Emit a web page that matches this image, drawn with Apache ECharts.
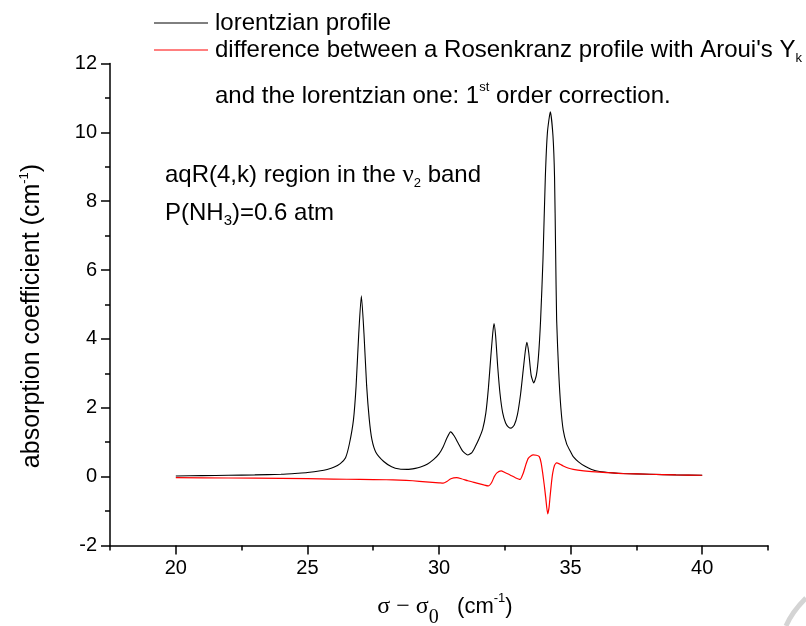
<!DOCTYPE html>
<html>
<head>
<meta charset="utf-8">
<script src="https://cdn.jsdelivr.net/npm/echarts@6/dist/echarts.min.js"></script>
<style>
  html, body { margin: 0; padding: 0; background: #fff; }
  #chart { width: 806px; height: 626px; }
</style>
</head>
<body>
<div id="chart"></div>
<script>
// Wavenumber offset (cm-1) and absorption coefficient (cm-1) of the Lorentzian profile
const lorentzSigma = [20.0, 21.0, 22.0, 23.0, 24.0, 24.65, 25.0, 25.5, 25.75, 26.0, 26.25, 26.45, 26.6, 26.75, 26.85, 26.95, 27.05, 27.15, 27.25, 27.35, 27.45, 27.6, 27.9, 28.2, 28.5, 28.8, 29.1, 29.3, 29.55, 29.8, 30.0, 30.16, 30.3, 30.44, 30.58, 30.73, 30.9, 31.09, 31.25, 31.37, 31.52, 31.66, 31.78, 31.88, 31.97, 32.04, 32.09, 32.15, 32.23, 32.32, 32.42, 32.53, 32.64, 32.74, 32.86, 32.98, 33.1, 33.2, 33.28, 33.34, 33.41, 33.5, 33.6, 33.7, 33.78, 33.86, 33.95, 34.04, 34.12, 34.23, 34.33, 34.39, 34.43, 34.47, 34.55, 34.63, 34.72, 34.85, 35.0, 35.1, 35.3, 35.55, 35.8, 36.1, 36.6, 37.0, 38.0, 39.0, 40.0];
const lorentzAbs = [0.02, 0.03, 0.04, 0.05, 0.07, 0.10, 0.12, 0.17, 0.21, 0.27, 0.38, 0.55, 0.97, 1.65, 2.63, 4.14, 5.25, 4.15, 2.65, 1.67, 1.08, 0.71, 0.44, 0.29, 0.22, 0.21, 0.24, 0.28, 0.36, 0.50, 0.66, 0.87, 1.12, 1.30, 1.18, 0.97, 0.74, 0.63, 0.70, 0.86, 1.10, 1.38, 1.85, 2.6, 3.5, 4.15, 4.45, 4.1, 3.2, 2.4, 1.85, 1.56, 1.44, 1.41, 1.5, 1.8, 2.4, 3.1, 3.65, 3.9, 3.6, 2.95, 2.72, 2.95, 3.5, 4.55, 6.3, 8.7, 10.0, 10.6, 9.9, 8.7, 6.6, 4.55, 3.0, 2.0, 1.35, 0.95, 0.72, 0.58, 0.43, 0.30, 0.21, 0.15, 0.11, 0.09, 0.07, 0.05, 0.04];

// First order correction: Rosenkranz profile (Aroui's Y_k) minus the Lorentzian one
const corrSigma = [20.0, 22.0, 24.0, 26.0, 27.0, 28.0, 28.5, 29.0, 29.5, 30.0, 30.16, 30.3, 30.45, 30.67, 30.85, 31.1, 31.4, 31.7, 31.87, 32.0, 32.1, 32.2, 32.36, 32.5, 32.7, 32.9, 33.08, 33.2, 33.3, 33.39, 33.5, 33.58, 33.7, 33.81, 33.88, 33.94, 34.0, 34.05, 34.13, 34.18, 34.22, 34.27, 34.32, 34.39, 34.47, 34.6, 34.72, 34.9, 35.1, 35.5, 36.1, 37.0, 38.0, 39.0, 40.0];
const corrAbs = [-0.03, -0.04, -0.05, -0.07, -0.08, -0.09, -0.10, -0.12, -0.15, -0.18, -0.19, -0.14, -0.06, -0.03, -0.06, -0.12, -0.18, -0.24, -0.27, -0.17, 0.0, 0.11, 0.17, 0.12, 0.05, -0.03, -0.08, 0.10, 0.35, 0.53, 0.61, 0.63, 0.62, 0.58, 0.40, 0.10, -0.25, -0.58, -1.08, -0.90, -0.58, -0.20, 0.10, 0.33, 0.40, 0.36, 0.31, 0.25, 0.21, 0.17, 0.13, 0.09, 0.07, 0.05, 0.04];

// Axis ticks
const xMajor = [20, 25, 30, 35, 40];
const xMinor = [17.5, 22.5, 27.5, 32.5, 37.5, 42.5];
const yMajor = [-2, 0, 2, 4, 6, 8, 10, 12];
const yMinor = [-1, 1, 3, 5, 7, 9, 11];

const FONT = '"Liberation Sans", Arial, sans-serif';
const SERIF = '"Liberation Serif", "DejaVu Serif", serif';

const pair = (xs, ys) => xs.map((x, i) => [x, ys[i]]);

const chart = echarts.init(document.getElementById('chart'), null, { renderer: 'canvas' });

const tickStyle = { color: '#000', width: 1.5 };

chart.setOption({
  animation: false,
  backgroundColor: '#fff',
  grid: { left: 110, top: 63.5, right: 38, bottom: 80.5, containLabel: false, outerBoundsMode: 'none' },
  xAxis: [
    {
      type: 'value', min: 17.5, max: 42.5, interval: 2.5, position: 'bottom',
      axisLine: { show: true, onZero: false, lineStyle: { color: '#000', width: 1.5 } },
      axisTick: { show: true, inside: false, length: 9, lineStyle: tickStyle, customValues: xMajor },
      axisLabel: { show: true, margin: 13, color: '#000', fontFamily: FONT, fontSize: 20, customValues: xMajor },
      splitLine: { show: false }
    },
    {
      type: 'value', min: 17.5, max: 42.5, interval: 2.5, position: 'bottom', offset: 0,
      axisLine: { show: false, onZero: false },
      axisTick: { show: true, inside: false, length: 5, lineStyle: tickStyle, customValues: xMinor },
      axisLabel: { show: false },
      splitLine: { show: false }
    }
  ],
  yAxis: [
    {
      type: 'value', min: -2, max: 12, interval: 2, position: 'left',
      axisLine: { show: true, onZero: false, lineStyle: { color: '#000', width: 1.5 } },
      axisTick: { show: true, inside: false, length: 9, lineStyle: tickStyle, customValues: yMajor },
      axisLabel: { show: true, margin: 13, color: '#000', fontFamily: FONT, fontSize: 20, customValues: yMajor },
      splitLine: { show: false }
    },
    {
      type: 'value', min: -2, max: 12, interval: 1, position: 'left', offset: 0,
      axisLine: { show: false, onZero: false },
      axisTick: { show: true, inside: false, length: 5, lineStyle: tickStyle, customValues: yMinor },
      axisLabel: { show: false },
      splitLine: { show: false }
    }
  ],
  series: [
    {
      name: 'lorentzian profile', type: 'line', xAxisIndex: 0, yAxisIndex: 0,
      data: pair(lorentzSigma, lorentzAbs), showSymbol: false, smooth: 0.2,
      lineStyle: { color: '#000', width: 1.1 }, z: 2
    },
    {
      name: 'first order correction', type: 'line', xAxisIndex: 0, yAxisIndex: 0,
      data: pair(corrSigma, corrAbs), showSymbol: false, smooth: 0.2,
      lineStyle: { color: '#ff0000', width: 1.2 }, z: 3
    }
  ],
  graphic: [
    // legend
    { type: 'line', shape: { x1: 154, y1: 23, x2: 208, y2: 23 }, style: { stroke: '#000', lineWidth: 1 } },
    { type: 'line', shape: { x1: 154, y1: 50, x2: 208, y2: 50 }, style: { stroke: '#ff0000', lineWidth: 1 } },
    { type: 'text', x: 215, y: 23, style: { text: 'lorentzian profile', font: '24px ' + FONT, fill: '#000', verticalAlign: 'middle' } },
    {
      type: 'text', x: 215, y: 50,
      style: {
        text: "{m|difference between a Rosenkranz profile with Aroui's Y}{s|k}",
        fill: '#000', verticalAlign: 'middle',
        rich: {
          m: { fontFamily: FONT, fontSize: 24, lineHeight: 30, verticalAlign: 'middle' },
          s: { fontFamily: FONT, fontSize: 13, lineHeight: 14, verticalAlign: 'bottom' }
        }
      }
    },
    {
      type: 'text', x: 215, y: 96,
      style: {
        text: '{m|and the lorentzian one: 1}{p|st}{m| order correction.}',
        fill: '#000', verticalAlign: 'middle',
        rich: {
          m: { fontFamily: FONT, fontSize: 24, lineHeight: 30, verticalAlign: 'middle' },
          p: { fontFamily: FONT, fontSize: 13, lineHeight: 14, verticalAlign: 'top' }
        }
      }
    },
    // annotation
    {
      type: 'text', x: 165, y: 175,
      style: {
        text: '{m|aqR(4,k) region in the }{g|ν}{s|2}{m| band}',
        fill: '#000', verticalAlign: 'middle',
        rich: {
          m: { fontFamily: FONT, fontSize: 24, lineHeight: 30, verticalAlign: 'middle' },
          g: { fontFamily: SERIF, fontSize: 25, lineHeight: 30, verticalAlign: 'middle' },
          s: { fontFamily: FONT, fontSize: 13, lineHeight: 14, verticalAlign: 'bottom' }
        }
      }
    },
    {
      type: 'text', x: 165, y: 213,
      style: {
        text: '{m|P(NH}{s|3}{m|)=0.6 atm}',
        fill: '#000', verticalAlign: 'middle',
        rich: {
          m: { fontFamily: FONT, fontSize: 24, lineHeight: 30, verticalAlign: 'middle' },
          s: { fontFamily: FONT, fontSize: 15, lineHeight: 14, verticalAlign: 'bottom' }
        }
      }
    },
    // y axis title
    {
      type: 'text', x: 32, y: 316, rotation: Math.PI / 2,
      style: {
        text: '{m|absorption coefficient (cm}{p|-1}{m|)}',
        fill: '#000', align: 'center', verticalAlign: 'middle',
        rich: {
          m: { fontFamily: FONT, fontSize: 25, lineHeight: 28, verticalAlign: 'middle' },
          p: { fontFamily: FONT, fontSize: 13, lineHeight: 14, verticalAlign: 'top' }
        }
      }
    },
    // x axis title
    {
      type: 'text', x: 445, y: 607,
      style: {
        text: '{g|σ − σ}{z|0}{m|   (cm}{p|-1}{m|)}',
        fill: '#000', align: 'center', verticalAlign: 'middle',
        rich: {
          g: { fontFamily: SERIF, fontSize: 24, lineHeight: 30, verticalAlign: 'middle' },
          z: { fontFamily: SERIF, fontSize: 20, lineHeight: 20, verticalAlign: 'bottom', padding: [0, 0, -6, 0] },
          m: { fontFamily: FONT, fontSize: 22, lineHeight: 30, verticalAlign: 'middle' },
          p: { fontFamily: FONT, fontSize: 13, lineHeight: 14, verticalAlign: 'top' }
        }
      }
    },
    // page curl in the lower right corner
    { type: 'bezierCurve', shape: { x1: 786, y1: 626, cpx1: 792, cpy1: 612, x2: 806, y2: 598 }, style: { stroke: '#d4d4d4', lineWidth: 5, fill: null } }
  ]
});
</script>
</body>
</html>
